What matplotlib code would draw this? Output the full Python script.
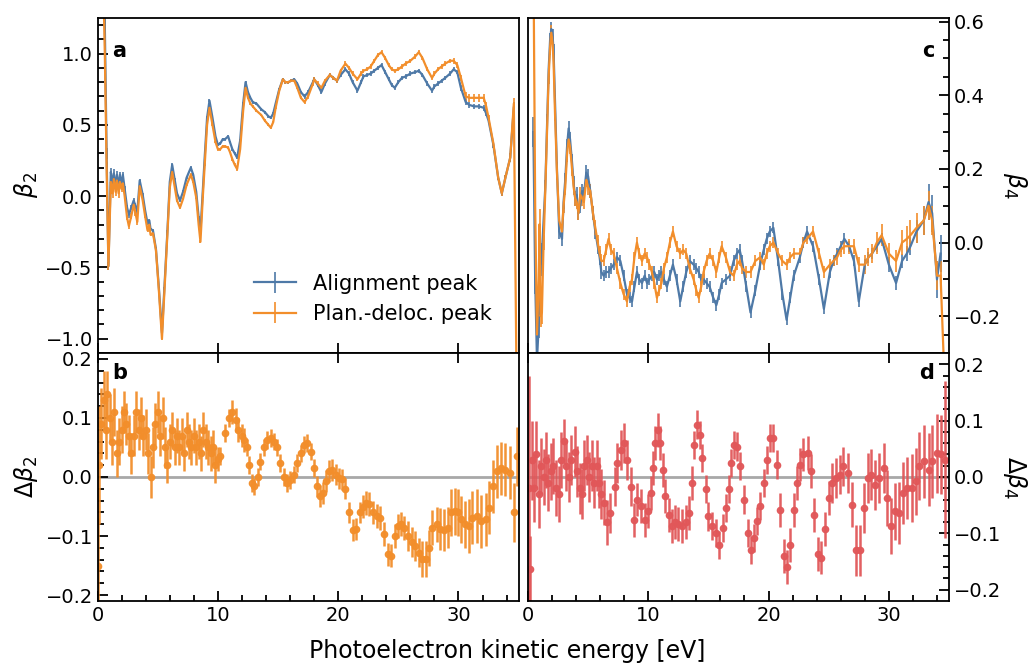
import numpy as np
import matplotlib
matplotlib.use('Agg')
import matplotlib.pyplot as plt

# ---------------- dados ----------------
# painel a: beta_2
a_energy = [0.45, 0.6, 0.75, 0.9, 1.1, 1.25, 1.35, 1.5, 1.6, 1.75,
            1.85, 2.0, 2.1, 2.25, 2.45, 2.6, 2.8, 3.0, 3.15, 3.3,
            3.5, 3.75, 3.95, 4.15, 4.3, 4.4, 4.6, 4.85, 5.1, 5.35,
            5.55, 5.8, 6.0, 6.2, 6.4, 6.6, 6.85, 7.1, 7.4, 7.75,
            7.95, 8.2, 8.4, 8.55, 8.75, 8.9, 9.1, 9.3, 9.55, 9.8,
            10.0, 10.2, 10.4, 10.6, 10.85, 11.0, 11.2, 11.4, 11.6, 11.85,
            12.1, 12.3, 12.5, 12.7, 12.9, 13.2, 13.6, 13.9, 14.2, 14.4,
            14.6, 14.8, 15.1, 15.4, 15.6, 15.85, 16.1, 16.35, 16.6, 16.9,
            17.2, 17.5, 17.9, 18.0, 18.3, 18.6, 18.9, 19.3, 19.6, 19.9,
            20.2, 20.6, 20.9, 21.2, 21.6, 21.9, 22.1, 22.4, 22.7, 23.0,
            23.3, 23.6, 23.9, 24.2, 24.45, 24.7, 25.0, 25.3, 25.6, 26.0,
            26.4, 26.7, 27.0, 27.4, 27.8, 28.0, 28.3, 28.6, 28.9, 29.3,
            29.6, 29.9, 30.2, 30.6, 30.9, 31.3, 31.7, 32.1, 32.3, 32.5,
            32.9, 33.3, 33.6, 33.9, 34.3, 34.6]
a_energy_plan = a_energy + [34.85]

a_align = [1.6, 1.2, 0.3, -0.49, 0.17, 0.08, 0.16, 0.06, 0.15, 0.07,
           0.15, 0.08, 0.15, 0.05, -0.08, -0.13, -0.08, -0.03, -0.07, -0.11,
           0.11, 0.01, -0.10, -0.19, -0.17, -0.23, -0.24, -0.37, -0.65, -0.96,
           -0.65, -0.25, 0.10, 0.22, 0.12, 0.02, -0.03, 0.03, 0.13, 0.20,
           0.15, 0.03, -0.15, -0.25, 0.05, 0.27, 0.55, 0.67, 0.55, 0.42,
           0.36, 0.37, 0.40, 0.40, 0.42, 0.38, 0.33, 0.30, 0.27, 0.39,
           0.65, 0.80, 0.73, 0.69, 0.66, 0.65, 0.61, 0.59, 0.56, 0.55,
           0.58, 0.65, 0.75, 0.82, 0.80, 0.80, 0.81, 0.82, 0.79, 0.73,
           0.70, 0.73, 0.80, 0.82, 0.78, 0.73, 0.79, 0.85, 0.83, 0.81,
           0.85, 0.89, 0.86, 0.80, 0.74, 0.80, 0.84, 0.85, 0.86, 0.88,
           0.90, 0.92, 0.87, 0.82, 0.78, 0.76, 0.80, 0.83, 0.84, 0.86,
           0.87, 0.88, 0.85, 0.79, 0.74, 0.77, 0.79, 0.81, 0.83, 0.86,
           0.89, 0.87, 0.76, 0.66, 0.64, 0.63, 0.63, 0.62, 0.58, 0.53,
           0.36, 0.13, 0.02, 0.13, 0.27, 0.62]
a_align_err = [0.05, 0.05, 0.04, 0.03, 0.03, 0.03, 0.03, 0.03, 0.03, 0.03,
               0.02, 0.02, 0.02, 0.02, 0.02, 0.02, 0.02, 0.02, 0.02, 0.02,
               0.01, 0.01, 0.01, 0.01, 0.01, 0.01, 0.01, 0.01, 0.01, 0.01,
               0.01, 0.01, 0.01, 0.01, 0.01, 0.01, 0.01, 0.01, 0.01, 0.01,
               0.01, 0.01, 0.01, 0.01, 0.01, 0.01, 0.01, 0.01, 0.01, 0.01,
               0.01, 0.01, 0.01, 0.01, 0.01, 0.01, 0.01, 0.01, 0.01, 0.01,
               0.01, 0.01, 0.01, 0.01, 0.01, 0.01, 0.01, 0.01, 0.01, 0.01,
               0.01, 0.01, 0.01, 0.01, 0.01, 0.01, 0.01, 0.01, 0.01, 0.01,
               0.015, 0.015, 0.015, 0.015, 0.015, 0.015, 0.015, 0.015, 0.015, 0.015,
               0.015, 0.015, 0.015, 0.015, 0.015, 0.015, 0.015, 0.015, 0.015, 0.015,
               0.015, 0.015, 0.015, 0.015, 0.015, 0.015, 0.015, 0.015, 0.015, 0.015,
               0.015, 0.015, 0.015, 0.015, 0.015, 0.015, 0.015, 0.015, 0.015, 0.015,
               0.015, 0.015, 0.02, 0.02, 0.02, 0.02, 0.02, 0.02, 0.02, 0.02,
               0.02, 0.02, 0.02, 0.02, 0.03, 0.04]

a_plan = [1.6, 1.0, 0.2, -0.49, 0.10, 0.02, 0.12, 0.03, 0.11, 0.02,
          0.10, 0.05, 0.09, 0.0, -0.15, -0.21, -0.14, -0.06, -0.12, -0.18,
          0.07, -0.03, -0.14, -0.24, -0.20, -0.27, -0.26, -0.38, -0.67, -1.0,
          -0.68, -0.27, 0.06, 0.17, 0.07, -0.03, -0.08, -0.02, 0.08, 0.15,
          0.10, -0.01, -0.20, -0.32, 0.0, 0.22, 0.50, 0.62, 0.50, 0.38,
          0.33, 0.33, 0.35, 0.35, 0.34, 0.31, 0.26, 0.22, 0.19, 0.33,
          0.60, 0.76, 0.69, 0.65, 0.63, 0.60, 0.57, 0.53, 0.50, 0.48,
          0.52, 0.62, 0.74, 0.82, 0.80, 0.80, 0.81, 0.81, 0.76, 0.69,
          0.66, 0.70, 0.79, 0.82, 0.79, 0.76, 0.81, 0.85, 0.83, 0.81,
          0.88, 0.93, 0.90, 0.86, 0.82, 0.86, 0.88, 0.89, 0.91, 0.95,
          0.99, 1.01, 0.97, 0.92, 0.89, 0.88, 0.89, 0.91, 0.93, 0.95,
          0.98, 1.01, 0.97, 0.89, 0.83, 0.86, 0.89, 0.91, 0.93, 0.95,
          0.95, 0.92, 0.83, 0.70, 0.69, 0.69, 0.69, 0.69, 0.63, 0.55,
          0.37, 0.13, 0.02, 0.13, 0.27, 0.65, -1.5]
a_plan_err = [0.05, 0.05, 0.04, 0.03, 0.03, 0.03, 0.03, 0.03, 0.03, 0.03,
              0.02, 0.02, 0.02, 0.02, 0.02, 0.02, 0.02, 0.02, 0.02, 0.02,
              0.01, 0.01, 0.01, 0.01, 0.01, 0.01, 0.01, 0.01, 0.01, 0.01,
              0.01, 0.01, 0.01, 0.01, 0.01, 0.01, 0.01, 0.01, 0.01, 0.01,
              0.01, 0.01, 0.01, 0.01, 0.01, 0.01, 0.01, 0.01, 0.01, 0.01,
              0.01, 0.01, 0.01, 0.01, 0.01, 0.01, 0.01, 0.01, 0.01, 0.01,
              0.01, 0.01, 0.01, 0.01, 0.01, 0.01, 0.01, 0.01, 0.01, 0.01,
              0.01, 0.01, 0.01, 0.01, 0.01, 0.01, 0.01, 0.01, 0.01, 0.01,
              0.015, 0.015, 0.015, 0.015, 0.015, 0.015, 0.015, 0.015, 0.015, 0.015,
              0.015, 0.015, 0.015, 0.015, 0.015, 0.015, 0.015, 0.015, 0.015, 0.015,
              0.015, 0.015, 0.015, 0.015, 0.015, 0.015, 0.015, 0.015, 0.015, 0.015,
              0.015, 0.015, 0.015, 0.015, 0.015, 0.015, 0.015, 0.015, 0.015, 0.015,
              0.02, 0.02, 0.02, 0.03, 0.03, 0.03, 0.03, 0.03, 0.03, 0.02,
              0.02, 0.02, 0.02, 0.02, 0.03, 0.04, 0.05]

# painel c: beta_4
c_energy = [0.45, 0.6, 0.75, 0.9, 0.97, 1.05, 1.16, 1.3, 1.44, 1.6,
            1.72, 1.84, 1.94, 2.05, 2.13, 2.25, 2.41, 2.6, 2.83, 2.96,
            3.1, 3.25, 3.38, 3.5, 3.66, 3.8, 3.93, 4.05, 4.2, 4.35,
            4.5, 4.65, 4.85, 5.0, 5.18, 5.4, 5.6, 5.8, 5.96, 6.1,
            6.29, 6.5, 6.7, 6.9, 7.12, 7.4, 7.68, 7.95, 8.23, 8.45,
            8.65, 8.85, 9.06, 9.25, 9.48, 9.7, 9.9, 10.1, 10.3, 10.5,
            10.72, 10.9, 11.1, 11.3, 11.55, 11.8, 12.05, 12.35, 12.66, 12.9,
            13.16, 13.45, 13.77, 14.0, 14.19, 14.4, 14.6, 14.85, 15.1, 15.4,
            15.66, 15.9, 16.1, 16.45, 16.8, 17.1, 17.37, 17.6, 17.8, 18.15,
            18.5, 18.9, 19.3, 19.6, 19.85, 20.1, 20.4, 20.8, 21.15, 21.5,
            21.8, 22.1, 22.6, 22.9, 23.2, 23.7, 24.2, 24.6, 25.1, 25.4,
            25.7, 26.0, 26.3, 26.7, 27.1, 27.5, 28.0, 28.3, 28.6, 29.0,
            29.4, 30.0, 30.6, 31.1, 31.5, 31.8, 32.3, 32.9, 33.3, 33.6,
            34.0, 34.3]
c_energy_plan = c_energy + [34.6]

c_align = [0.30, -0.10, -0.32, -0.22, -0.12, -0.06, -0.03, 0.06, 0.15, 0.33,
           0.47, 0.55, 0.58, 0.56, 0.52, 0.38, 0.20, 0.03, 0.01, 0.11,
           0.17, 0.26, 0.31, 0.28, 0.22, 0.16, 0.12, 0.13, 0.08, 0.10,
           0.14, 0.13, 0.19, 0.18, 0.14, 0.08, 0.03, -0.01, -0.04, -0.08,
           -0.09, -0.08, -0.08, -0.07, -0.06, -0.04, -0.05, -0.09, -0.14, -0.15,
           -0.16, -0.12, -0.08, -0.10, -0.11, -0.09, -0.11, -0.10, -0.09, -0.08,
           -0.10, -0.09, -0.08, -0.10, -0.12, -0.09, -0.06, -0.10, -0.16, -0.12,
           -0.08, -0.05, -0.06, -0.07, -0.08, -0.10, -0.10, -0.11, -0.12, -0.15,
           -0.17, -0.14, -0.11, -0.10, -0.09, -0.05, -0.03, -0.02, -0.05, -0.12,
           -0.19, -0.13, -0.06, -0.02, 0.01, 0.03, 0.04, -0.05, -0.14, -0.21,
           -0.15, -0.09, -0.04, 0.0, 0.03, -0.01, -0.10, -0.18, -0.08, -0.05,
           -0.03, -0.01, 0.01, -0.01, -0.05, -0.16, -0.06, -0.04, -0.03, -0.01,
           0.01, -0.06, -0.11, -0.05, -0.03, -0.01, 0.03, 0.06, 0.11, 0.08,
           -0.10, -0.03]
c_align_err = [0.04, 0.04, 0.04, 0.04, 0.03, 0.03, 0.03, 0.02, 0.02, 0.02,
               0.02, 0.02, 0.02, 0.02, 0.02, 0.02, 0.02, 0.02, 0.02, 0.02,
               0.02, 0.02, 0.02, 0.02, 0.02, 0.02, 0.02, 0.02, 0.02, 0.02,
               0.02, 0.02, 0.02, 0.02, 0.02, 0.02, 0.02, 0.02, 0.02, 0.02,
               0.015, 0.015, 0.015, 0.015, 0.015, 0.015, 0.015, 0.015, 0.015, 0.015,
               0.015, 0.015, 0.015, 0.015, 0.015, 0.015, 0.015, 0.015, 0.015, 0.015,
               0.015, 0.015, 0.015, 0.015, 0.015, 0.015, 0.015, 0.015, 0.015, 0.015,
               0.015, 0.015, 0.015, 0.015, 0.015, 0.015, 0.015, 0.015, 0.015, 0.015,
               0.015, 0.015, 0.015, 0.015, 0.015, 0.015, 0.015, 0.015, 0.015, 0.015,
               0.015, 0.015, 0.015, 0.015, 0.015, 0.015, 0.015, 0.015, 0.015, 0.015,
               0.015, 0.015, 0.015, 0.015, 0.015, 0.015, 0.015, 0.015, 0.015, 0.015,
               0.015, 0.015, 0.015, 0.015, 0.015, 0.015, 0.015, 0.015, 0.015, 0.015,
               0.015, 0.02, 0.02, 0.02, 0.02, 0.025, 0.03, 0.04, 0.05, 0.05,
               0.05, 0.05]

c_plan = [0.80, 0.10, -0.25, -0.10, 0.05, -0.20, -0.19, 0.0, 0.14, 0.32,
          0.45, 0.53, 0.57, 0.54, 0.49, 0.35, 0.19, 0.06, 0.03, 0.10,
          0.15, 0.24, 0.28, 0.26, 0.20, 0.15, 0.12, 0.11, 0.08, 0.13,
          0.12, 0.11, 0.17, 0.15, 0.14, 0.08, 0.04, 0.0, -0.03, -0.05,
          -0.05, -0.02, 0.01, -0.02, -0.03, -0.07, -0.11, -0.14, -0.16, -0.12,
          -0.10, -0.04, 0.0, -0.03, -0.05, -0.03, -0.04, -0.06, -0.08, -0.11,
          -0.15, -0.13, -0.11, -0.07, -0.04, 0.0, 0.03, -0.01, -0.03, -0.02,
          -0.03, -0.07, -0.10, -0.13, -0.15, -0.12, -0.08, -0.05, -0.03, -0.05,
          -0.08, -0.04, -0.01, -0.04, -0.08, -0.09, -0.06, -0.05, -0.07, -0.08,
          -0.08, -0.05, -0.04, -0.06, -0.03, -0.01, 0.0, -0.03, -0.05, -0.06,
          -0.04, -0.03, -0.03, 0.0, 0.01, 0.03, -0.03, -0.08, -0.06, -0.05,
          -0.04, -0.02, -0.01, -0.01, -0.01, -0.06, -0.06, -0.04, -0.03, 0.0,
          0.02, -0.03, -0.05, 0.0, 0.01, 0.02, 0.04, 0.06, 0.10, 0.06,
          -0.09, -0.09, -0.35]
c_plan_err = [0.05, 0.05, 0.04, 0.04, 0.04, 0.03, 0.03, 0.02, 0.02, 0.02,
              0.02, 0.02, 0.02, 0.02, 0.02, 0.02, 0.02, 0.02, 0.02, 0.02,
              0.02, 0.02, 0.02, 0.02, 0.02, 0.02, 0.02, 0.02, 0.02, 0.02,
              0.02, 0.02, 0.02, 0.02, 0.02, 0.02, 0.02, 0.02, 0.02, 0.02,
              0.015, 0.015, 0.015, 0.015, 0.015, 0.015, 0.015, 0.015, 0.015, 0.015,
              0.015, 0.015, 0.015, 0.015, 0.015, 0.015, 0.015, 0.015, 0.015, 0.015,
              0.015, 0.015, 0.015, 0.015, 0.015, 0.015, 0.015, 0.015, 0.015, 0.015,
              0.015, 0.015, 0.015, 0.015, 0.015, 0.015, 0.015, 0.015, 0.015, 0.015,
              0.015, 0.015, 0.015, 0.015, 0.015, 0.015, 0.015, 0.015, 0.015, 0.015,
              0.015, 0.015, 0.015, 0.015, 0.015, 0.015, 0.015, 0.015, 0.015, 0.015,
              0.015, 0.015, 0.015, 0.015, 0.015, 0.015, 0.015, 0.015, 0.015, 0.015,
              0.02, 0.02, 0.02, 0.02, 0.02, 0.02, 0.025, 0.025, 0.025, 0.03,
              0.03, 0.03, 0.03, 0.035, 0.035, 0.04, 0.04, 0.04, 0.04, 0.04,
              0.04, 0.04, 0.05]

# painel b: delta beta_2
b_energy = [0.05, 0.15, 0.3, 0.5, 0.7, 0.8, 1.0, 1.2, 1.4, 1.6,
            1.8, 2.0, 2.2, 2.4, 2.6, 2.8, 3.0, 3.2, 3.4, 3.6,
            3.8, 4.0, 4.2, 4.4, 4.6, 4.8, 5.0, 5.2, 5.4, 5.6,
            5.8, 6.0, 6.2, 6.4, 6.6, 6.8, 7.0, 7.2, 7.4, 7.6,
            7.8, 8.0, 8.2, 8.4, 8.6, 8.8, 9.0, 9.2, 9.4, 9.6,
            9.8, 10.0, 10.2, 10.6, 10.9, 11.2, 11.5, 11.7, 12.0, 12.2,
            12.4, 12.6, 12.85, 13.0, 13.3, 13.5, 13.8, 14.1, 14.4, 14.65,
            14.9, 15.2, 15.5, 15.75, 16.0, 16.3, 16.6, 16.9, 17.15, 17.4,
            17.75, 17.97, 18.25, 18.5, 18.7, 18.95, 19.2, 19.5, 19.8, 20.05,
            20.3, 20.6, 20.9, 21.2, 21.45, 21.8, 22.1, 22.35, 22.6, 22.9,
            23.25, 23.5, 23.8, 24.1, 24.4, 24.7, 24.95, 25.25, 25.5, 25.8,
            26.1, 26.35, 26.7, 27.0, 27.3, 27.55, 27.8, 28.2, 28.5, 28.8,
            29.1, 29.35, 29.7, 29.95, 30.2, 30.5, 30.9, 31.15, 31.5, 31.85,
            32.25, 32.55, 32.9, 33.2, 33.55, 33.9, 34.3, 34.65, 34.9]
b_diff = [-0.15, 0.02, 0.09, 0.13, 0.08, 0.14, 0.10, 0.06, 0.11, 0.04,
          0.06, 0.08, 0.11, 0.09, 0.07, 0.04, 0.07, 0.11, 0.08, 0.10,
          0.07, 0.08, 0.04, 0.00, 0.05, 0.09, 0.11, 0.07, 0.10, 0.05,
          0.02, 0.06, 0.08, 0.05, 0.07, 0.05, 0.07, 0.04, 0.08, 0.06,
          0.05, 0.07, 0.05, 0.06, 0.04, 0.08, 0.06, 0.05, 0.04, 0.05,
          0.02, 0.03, 0.035, 0.074, 0.10, 0.11, 0.096, 0.08, 0.07, 0.063,
          0.05, 0.02, -0.01, -0.016, 0.0, 0.026, 0.05, 0.063, 0.066, 0.06,
          0.05, 0.024, 0.0, -0.01, -0.005, 0.004, 0.024, 0.04, 0.055, 0.057,
          0.043, 0.015, -0.016, -0.032, -0.027, -0.007, 0.01, 0.012, 0.004, -0.002,
          -0.004, -0.02, -0.06, -0.09, -0.088, -0.06, -0.05, -0.044, -0.046, -0.06,
          -0.066, -0.069, -0.097, -0.131, -0.133, -0.10, -0.083, -0.08, -0.086, -0.10,
          -0.11, -0.117, -0.128, -0.139, -0.139, -0.12, -0.086, -0.08, -0.088, -0.09,
          -0.086, -0.06, -0.058, -0.06, -0.072, -0.08, -0.083, -0.069, -0.066, -0.075,
          -0.072, -0.052, -0.016, 0.01, 0.015, 0.012, 0.007, -0.06, 0.035]
b_err = [0.08, 0.1, 0.06, 0.05, 0.05, 0.04, 0.04, 0.04, 0.04, 0.04,
         0.04, 0.04, 0.035, 0.035, 0.035, 0.035, 0.035, 0.035, 0.035, 0.035,
         0.035, 0.035, 0.035, 0.035, 0.035, 0.035, 0.035, 0.035, 0.035, 0.035,
         0.03, 0.03, 0.03, 0.03, 0.03, 0.03, 0.03, 0.03, 0.03, 0.03,
         0.03, 0.03, 0.03, 0.03, 0.03, 0.03, 0.03, 0.03, 0.03, 0.03,
         0.03, 0.02, 0.015, 0.015, 0.015, 0.02, 0.02, 0.02, 0.02, 0.02,
         0.015, 0.015, 0.015, 0.015, 0.015, 0.015, 0.015, 0.015, 0.015, 0.015,
         0.015, 0.015, 0.015, 0.015, 0.015, 0.015, 0.015, 0.015, 0.015, 0.015,
         0.015, 0.015, 0.018, 0.018, 0.018, 0.018, 0.018, 0.018, 0.018, 0.018,
         0.018, 0.018, 0.018, 0.018, 0.018, 0.018, 0.02, 0.02, 0.02, 0.02,
         0.02, 0.02, 0.02, 0.02, 0.02, 0.02, 0.02, 0.02, 0.02, 0.025,
         0.025, 0.025, 0.025, 0.03, 0.03, 0.03, 0.03, 0.03, 0.035, 0.035,
         0.035, 0.04, 0.04, 0.04, 0.04, 0.04, 0.045, 0.045, 0.045, 0.045,
         0.045, 0.045, 0.045, 0.045, 0.045, 0.045, 0.045, 0.05, 0.05]

# painel d: delta beta_4
d_energy = [0.05, 0.2, 0.35, 0.5, 0.7, 0.9, 1.1, 1.3, 1.5, 1.7,
            1.9, 2.1, 2.3, 2.55, 2.75, 2.96, 3.2, 3.4, 3.6, 3.9,
            4.1, 4.3, 4.5, 4.7, 4.9, 5.1, 5.3, 5.5, 5.7, 5.9,
            6.1, 6.3, 6.57, 6.85, 7.2, 7.4, 7.7, 7.95, 8.2, 8.55,
            8.8, 9.1, 9.4, 9.7, 10.0, 10.2, 10.4, 10.6, 10.8, 11.0,
            11.2, 11.4, 11.7, 12.0, 12.25, 12.5, 12.8, 13.1, 13.35, 13.6,
            13.8, 14.05, 14.3, 14.5, 14.8, 15.0, 15.3, 15.6, 15.85, 16.2,
            16.45, 16.7, 16.9, 17.15, 17.4, 17.65, 18.0, 18.3, 18.5, 18.8,
            19.0, 19.25, 19.6, 19.86, 20.14, 20.4, 20.7, 20.97, 21.25, 21.5,
            21.8, 22.1, 22.35, 22.6, 22.9, 23.25, 23.5, 23.8, 24.1, 24.4,
            24.7, 25.0, 25.3, 25.6, 25.9, 26.2, 26.6, 26.9, 27.26, 27.6,
            27.9, 28.25, 28.5, 28.87, 29.2, 29.56, 29.84, 30.2, 30.5, 30.86,
            31.2, 31.55, 31.9, 32.25, 32.5, 32.9, 33.3, 33.6, 34.0, 34.3,
            34.7]
d_diff = [-0.02, -0.164, 0.03, -0.02, 0.04, -0.03, 0.02, 0.0, 0.03, -0.01,
          0.01, 0.02, -0.02, -0.03, 0.03, 0.063, 0.02, 0.0, 0.03, 0.045,
          0.01, -0.02, -0.03, 0.02, 0.03, 0.0, 0.02, -0.01, 0.02, -0.01,
          -0.03, -0.046, -0.08, -0.064, -0.017, 0.025, 0.048, 0.06, 0.03, -0.017,
          -0.076, -0.04, -0.052, -0.076, -0.061, -0.028, 0.016, 0.06, 0.084, 0.06,
          0.013, -0.034, -0.067, -0.087, -0.08, -0.084, -0.087, -0.08, -0.064, -0.01,
          0.057, 0.093, 0.075, 0.034, -0.022, -0.07, -0.087, -0.099, -0.12, -0.09,
          -0.055, -0.022, 0.025, 0.057, 0.054, 0.019, -0.04, -0.10, -0.129, -0.108,
          -0.078, -0.052, -0.011, 0.03, 0.069, 0.069, 0.022, -0.058, -0.14, -0.16,
          -0.12, -0.058, -0.011, 0.022, 0.04, 0.042, 0.01, -0.067, -0.137, -0.143,
          -0.093, -0.037, -0.011, -0.002, 0.004, 0.019, 0.007, -0.049, -0.13, -0.13,
          -0.055, -0.002, 0.004, -0.014, -0.002, 0.016, -0.037, -0.087, -0.061, -0.064,
          -0.028, -0.019, -0.019, -0.008, 0.019, 0.028, 0.013, 0.028, 0.042, 0.04,
          0.031]
d_err = [0.2, 0.06, 0.07, 0.06, 0.06, 0.06, 0.05, 0.05, 0.05, 0.05,
         0.05, 0.05, 0.05, 0.05, 0.05, 0.04, 0.045, 0.045, 0.045, 0.045,
         0.045, 0.045, 0.045, 0.045, 0.045, 0.045, 0.045, 0.045, 0.045, 0.045,
         0.045, 0.04, 0.04, 0.035, 0.035, 0.035, 0.035, 0.035, 0.035, 0.035,
         0.03, 0.03, 0.03, 0.03, 0.03, 0.03, 0.03, 0.03, 0.03, 0.03,
         0.03, 0.03, 0.03, 0.03, 0.03, 0.03, 0.03, 0.03, 0.03, 0.03,
         0.025, 0.025, 0.025, 0.025, 0.025, 0.025, 0.025, 0.025, 0.025, 0.025,
         0.025, 0.025, 0.025, 0.025, 0.025, 0.025, 0.025, 0.025, 0.025, 0.025,
         0.025, 0.025, 0.025, 0.025, 0.025, 0.025, 0.025, 0.03, 0.03, 0.03,
         0.03, 0.03, 0.03, 0.03, 0.03, 0.03, 0.03, 0.03, 0.03, 0.03,
         0.03, 0.03, 0.035, 0.035, 0.035, 0.035, 0.035, 0.04, 0.045, 0.045,
         0.045, 0.045, 0.045, 0.045, 0.045, 0.045, 0.05, 0.05, 0.05, 0.055,
         0.055, 0.055, 0.06, 0.06, 0.06, 0.065, 0.065, 0.065, 0.07, 0.07,
         0.14]

# ---------------- figura ----------------
azul = '#4e79a7'
laranja = '#f28e2b'
vermelho = '#e15759'

fig = plt.figure(figsize=(10.35, 6.64), dpi=100)
ax_a = fig.add_axes([0.0943, 0.4684, 0.4068, 0.5045])
ax_b = fig.add_axes([0.0943, 0.0949, 0.4068, 0.3735])
ax_c = fig.add_axes([0.5101, 0.4684, 0.4068, 0.5045])
ax_d = fig.add_axes([0.5101, 0.0949, 0.4068, 0.3735])

# curvas com barras de erro
for ax, xa, ya, ea, xp, yp, ep in [
        (ax_a, a_energy, a_align, a_align_err, a_energy_plan, a_plan, a_plan_err),
        (ax_c, c_energy, c_align, c_align_err, c_energy_plan, c_plan, c_plan_err)]:
    ax.errorbar(xa, ya, yerr=ea, color=azul, lw=1.6, elinewidth=1.2,
                label='Alignment peak')
    ax.errorbar(xp, yp, yerr=ep, color=laranja, lw=1.6, elinewidth=1.2,
                label='Plan.-deloc. peak')

for ax, x, y, e, cor in [(ax_b, b_energy, b_diff, b_err, laranja),
                         (ax_d, d_energy, d_diff, d_err, vermelho)]:
    ax.axhline(0, color='#a8a8a8', lw=2, zorder=0)
    ax.errorbar(x, y, yerr=e, fmt='o', color=cor, ms=4.5, elinewidth=1.8,
                alpha=0.95)

ax_a.set_ylim(-1.1, 1.25)
ax_c.set_ylim(-0.3, 0.61)
ax_b.set_ylim(-0.21, 0.21)
ax_d.set_ylim(-0.22, 0.22)

ax_a.set_yticks([-1.0, -0.5, 0.0, 0.5, 1.0])
ax_a.set_yticks(np.arange(-1.1, 1.25, 0.1), minor=True)
ax_c.set_yticks([-0.2, 0.0, 0.2, 0.4, 0.6])
ax_c.set_yticks(np.arange(-0.3, 0.61, 0.05), minor=True)
ax_b.set_yticks([-0.2, -0.1, 0.0, 0.1, 0.2])
ax_b.set_yticks(np.arange(-0.2, 0.21, 0.02), minor=True)
ax_d.set_yticks([-0.2, -0.1, 0.0, 0.1, 0.2])
ax_d.set_yticks(np.arange(-0.2, 0.21, 0.02), minor=True)

for ax in [ax_a, ax_b, ax_c, ax_d]:
    ax.set_xlim(0, 35)
    ax.set_xticks([0, 10, 20, 30])
    for s in ax.spines.values():
        s.set_linewidth(1.3)
    ax.tick_params(which='both', direction='in', labelsize=14, width=1.3)
    ax.tick_params(which='major', length=7)
    ax.tick_params(which='minor', length=4)

for ax in [ax_b, ax_d]:
    ax.set_xticks(np.arange(0, 35.1, 2), minor=True)
    ax.tick_params(axis='x', which='major', top=True, bottom=True)
    ax.tick_params(axis='x', which='minor', top=False, bottom=True)

for ax in [ax_a, ax_c]:
    ax.tick_params(axis='x', labelbottom=False)

for ax in [ax_c, ax_d]:
    ax.yaxis.tick_right()
    ax.yaxis.set_label_position('right')

ax_a.set_ylabel(r'$\beta_2$', fontsize=17)
ax_b.set_ylabel(r'$\Delta\beta_2$', fontsize=17)
ax_c.set_ylabel(r'$\beta_4$', fontsize=17, rotation=270, labelpad=20)
ax_d.set_ylabel(r'$\Delta\beta_4$', fontsize=17, rotation=270, labelpad=20)

ax_a.text(0.035, 0.9, 'a', transform=ax_a.transAxes, fontsize=15,
          fontweight='bold', va='center')
ax_b.text(0.035, 0.92, 'b', transform=ax_b.transAxes, fontsize=15,
          fontweight='bold', va='center')
ax_c.text(0.965, 0.9, 'c', transform=ax_c.transAxes, fontsize=15,
          fontweight='bold', va='center', ha='right')
ax_d.text(0.965, 0.92, 'd', transform=ax_d.transAxes, fontsize=15,
          fontweight='bold', va='center', ha='right')

ax_a.legend(loc='lower right', bbox_to_anchor=(0.98, 0.03), frameon=False,
            fontsize=15, handlelength=2.0)

fig.text(0.49, 0.02, 'Photoelectron kinetic energy [eV]', fontsize=17,
         ha='center', va='center')

fig.savefig('out.png', dpi=100)
